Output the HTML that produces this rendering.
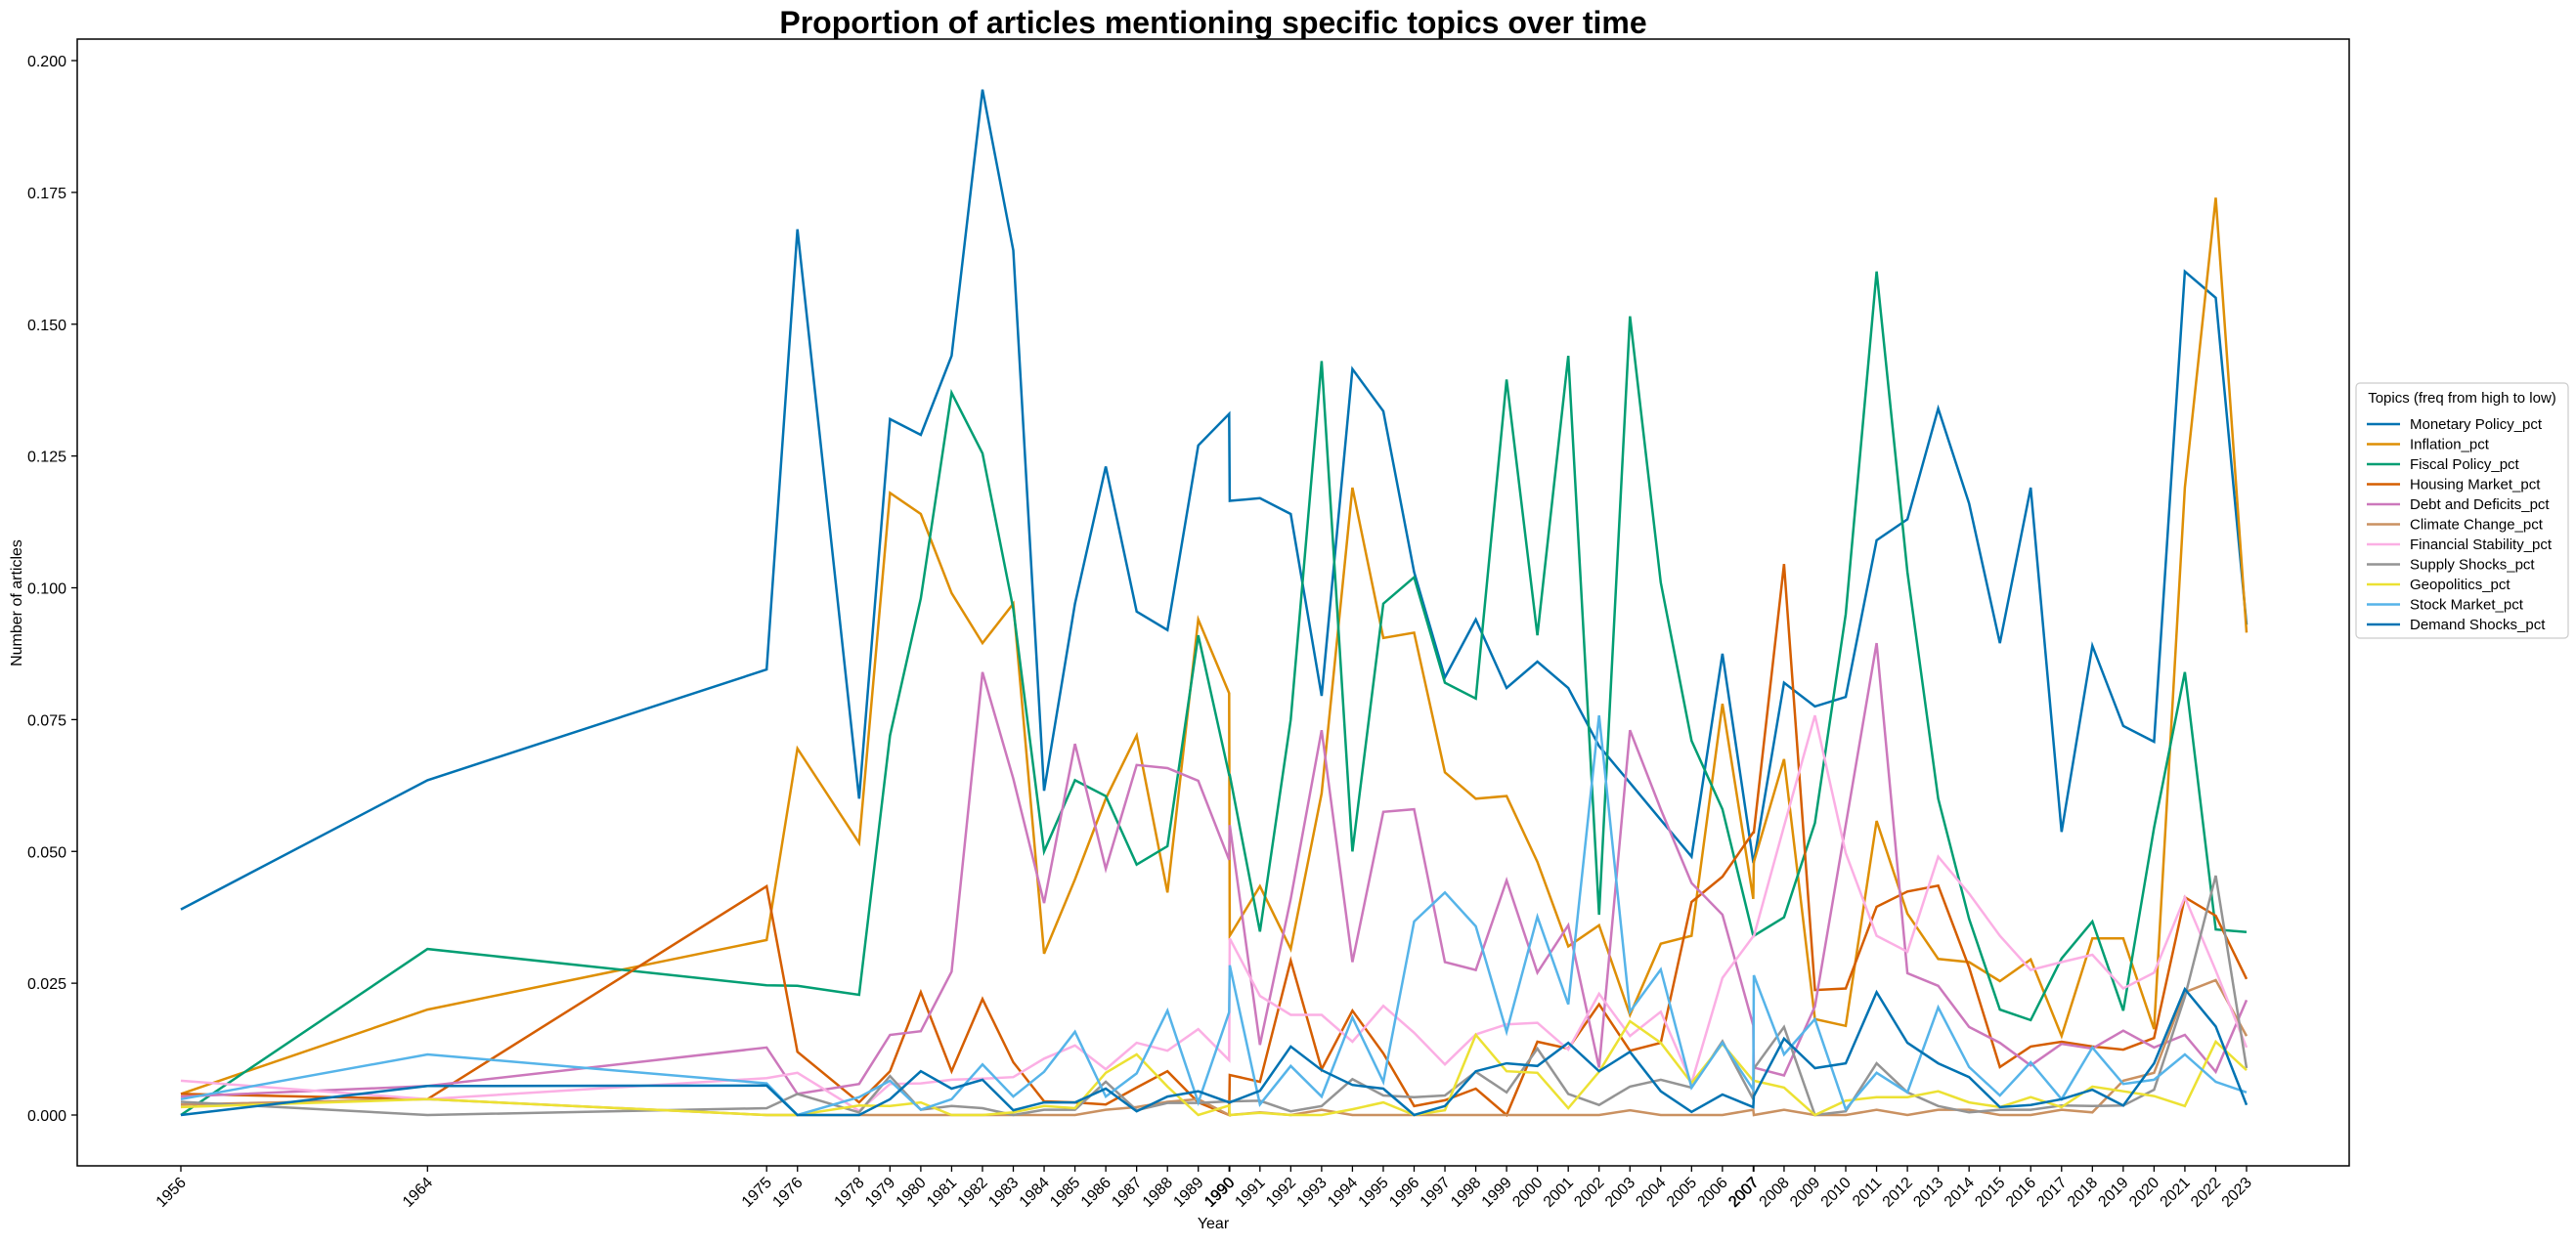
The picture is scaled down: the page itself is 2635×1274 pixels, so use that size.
<!DOCTYPE html>
<html><head><meta charset="utf-8"><style>
html,body{margin:0;padding:0;background:#fff;}
svg text{font-family:"Liberation Sans","DejaVu Sans",sans-serif;fill:#000;}
</style></head><body>
<svg id="chart" width="2635" height="1269" viewBox="0 0 2635 1269" xmlns="http://www.w3.org/2000/svg">
<rect x="0" y="0" width="2635" height="1269" fill="#fff"/>
<text x="1241" y="34" text-anchor="middle" font-size="32" font-weight="bold">Proportion of articles mentioning specific topics over time</text>
<g id="plot"></g>
<text x="1241" y="1257" text-anchor="middle" font-size="16">Year</text>
<text transform="translate(22,617) rotate(-90)" text-anchor="middle" font-size="16">Number of articles</text>
<g id="legend"></g>
</svg>
<script>
const years = [1956,1964,1975,1976,1978,1979,1980,1981,1982,1983,1984,1985,1986,1987,1988,1989,1990,1990.02,1991,1992,1993,1994,1995,1996,1997,1998,1999,2000,2001,2002,2003,2004,2005,2006,2007,2007.02,2008,2009,2010,2011,2012,2013,2014,2015,2016,2017,2018,2019,2020,2021,2022,2023];
const yTicks = [0,0.025,0.05,0.075,0.1,0.125,0.15,0.175,0.2];
const seriesNames = ["Monetary Policy_pct","Inflation_pct","Fiscal Policy_pct","Housing Market_pct","Debt and Deficits_pct","Climate Change_pct","Financial Stability_pct","Supply Shocks_pct","Geopolitics_pct","Stock Market_pct","Demand Shocks_pct"];
const monetary = [.039,.0635,.0845,.168,.060,.132,.129,.144,.1945,.164,.0615,.097,.123,.0955,.092,.127,.133,.1165,.117,.114,.0795,.1415,.1335,.103,.083,.094,.081,.086,.081,.070,.063,.056,.049,.0875,.048,.048,.082,.0775,.0793,.109,.113,.134,.116,.0895,.119,.0537,.089,.0738,.0708,.160,.155,.093];
const inflation = [.004,.020,.0332,.0695,.0516,.118,.114,.099,.0895,.097,.0306,.0447,.060,.072,.0422,.094,.080,.034,.0434,.0315,.061,.119,.0905,.0915,.065,.060,.0605,.048,.032,.036,.019,.0325,.034,.078,.041,.048,.0675,.0182,.0169,.0558,.0382,.0296,.029,.0254,.0295,.015,.0335,.0335,.0163,.119,.174,.0915];
const fiscal = [0,.0315,.0246,.0245,.0228,.072,.098,.137,.1255,.096,.050,.0635,.0605,.0475,.051,.091,.0645,.0645,.0348,.075,.143,.050,.097,.102,.082,.079,.1395,.091,.144,.038,.1515,.101,.071,.058,.034,.034,.0375,.0554,.095,.160,.103,.060,.0372,.020,.018,.0297,.0367,.0198,.0545,.084,.0352,.0347];
const housing = [.004,.003,.0434,.012,.0024,.0083,.0233,.0083,.022,.010,.0026,.0024,.002,.0052,.0083,.0024,0,.0076,.0063,.0293,.0087,.0198,.0117,.0017,.0028,.005,0,.0139,.0126,.021,.0122,.0137,.0404,.0452,.0536,.0536,.1045,.0237,.024,.0395,.0424,.0435,.028,.0091,.013,.0139,.013,.0124,.0146,.0413,.0378,.0258];
const debt = [.0035,.0055,.0128,.004,.0059,.0152,.0159,.0272,.084,.0638,.0402,.0704,.0467,.0664,.0658,.0634,.0484,.055,.0133,.041,.073,.029,.0575,.058,.029,.0275,.0445,.027,.036,.009,.073,.058,.044,.038,.017,.009,.0075,.0206,.055,.0895,.0269,.0245,.0167,.0137,.0094,.0135,.0126,.016,.0128,.0152,.0082,.0218];
const climate = [.002,.003,0,0,0,0,0,0,0,0,0,0,.001,.0015,.0025,.003,0,0,.0005,0,.001,0,0,0,0,0,0,0,0,0,.0009,0,0,0,.001,0,.001,0,0,.001,0,.001,.001,0,0,.001,.0005,.0065,.008,.0233,.0256,.015];
const financial = [.0065,.003,.007,.008,.0008,.0059,.006,.0067,.0069,.0072,.0107,.0132,.0087,.0137,.0122,.0163,.0104,.0335,.0226,.019,.019,.0139,.0207,.0156,.0096,.0153,.0172,.0175,.0124,.023,.015,.0196,.0061,.026,.0339,.0339,.0548,.0758,.0497,.034,.031,.049,.042,.034,.0275,.029,.0304,.024,.027,.0413,.0274,.0128];
const supply = [.0025,0,.0013,.004,.0005,.0074,.001,.0017,.0013,0,.001,.001,.0063,.0009,.0023,.0023,.0026,.0026,.0027,.0007,.0017,.0068,.0037,.0034,.0037,.0082,.0043,.0126,.004,.0019,.0054,.0067,.0052,.014,.003,.0088,.0167,0,.0007,.0098,.0043,.0017,.0005,.001,.001,.0018,.0017,.0018,.0048,.0224,.0454,.0089];
const geo = [.0015,.003,0,0,.0018,.0017,.0024,0,0,.0005,.0017,.0013,.008,.0115,.0054,0,.0018,0,.0004,0,0,.0011,.0024,0,.0009,.0152,.0083,.008,.0013,.0082,.0178,.0137,.0061,.0135,.0065,.0065,.0052,0,.0027,.0034,.0034,.0045,.0024,.0015,.0034,.0015,.0054,.0045,.0036,.0017,.0139,.0085];
const stock = [.003,.0115,.006,0,.0034,.0065,.001,.003,.0096,.0035,.0082,.0158,.0035,.0079,.0198,.0024,.0195,.0284,.002,.0093,.0035,.0185,.0063,.0367,.0422,.0358,.0158,.0376,.021,.0758,.0196,.0276,.0052,.0137,.0048,.0265,.0115,.0182,.0011,.008,.0043,.0204,.0091,.0037,.01,.003,.0128,.0059,.0067,.0115,.0063,.0043];
const demand = [0,.0055,.0056,0,0,.003,.0083,.005,.0067,.0009,.0024,.0024,.005,.0007,.0035,.0045,.0024,.0024,.0046,.013,.0085,.0057,.005,0,.0017,.0083,.0098,.0093,.0137,.0083,.012,.0045,.0006,.0039,.0015,.0036,.0145,.0089,.0098,.0233,.0137,.0098,.0072,.0015,.0019,.003,.0048,.0018,.0098,.0239,.0168,.0019];
const seriesValues = [monetary,inflation,fiscal,housing,debt,climate,financial,supply,geo,stock,demand];
const colors = ["#0173B2","#DE8F05","#029E73","#D55E00","#CC78BC","#CA9161","#FBAFE4","#949494","#ECE133","#56B4E9","#0173B2"];

const NS = "http://www.w3.org/2000/svg";
const L = 79, R = 2403, T = 40, B = 1193;
function xScale(yr){ return 185 + (yr - 1956) * (2298 - 185) / 67; }
function yScale(v){ return 1141 - v * (1141 - 62) / 0.2; }
function mk(tag, attrs, parent){ const e = document.createElementNS(NS, tag); for (const k in attrs) e.setAttribute(k, attrs[k]); parent.appendChild(e); return e; }

const plot = document.getElementById('plot');
// series
seriesValues.forEach((vals, si) => {
  const pts = years.map((yr, i) => xScale(yr).toFixed(1) + ',' + yScale(vals[i]).toFixed(1)).join(' ');
  const pl = mk('polyline', {points: pts, fill: 'none', stroke: colors[si], 'stroke-width': 2.5, 'stroke-linejoin': 'miter'}, plot);
  
  
});
// frame
const frame = mk('rect', {x: L, y: T, width: R - L, height: B - T, fill: 'none', stroke: '#000', 'stroke-width': 1.5}, plot);


// y ticks
yTicks.forEach(v => {
  const y = yScale(v);
  mk('line', {x1: L - 6, x2: L, y1: y, y2: y, stroke: '#000', 'stroke-width': 1.3}, plot);
  const t = mk('text', {x: L - 11, y: y + 6, 'text-anchor': 'end', 'font-size': 16}, plot);
  t.textContent = v.toFixed(3);
  
  
});
// x ticks
years.forEach(yr => {
  const x = xScale(yr);
  mk('line', {x1: x, x2: x, y1: B, y2: B + 6, stroke: '#000', 'stroke-width': 1.3}, plot);
  const t = mk('text', {x: 0, y: 0, 'text-anchor': 'end', 'font-size': 16, transform: 'translate(' + (x + 6) + ',' + (B + 18) + ') rotate(-45)'}, plot);
  t.textContent = String(Math.floor(yr));
  
  
});
// legend
const lg = document.getElementById('legend');
const lx = 2410, ly = 392, lw = 217, lh = 261;
mk('rect', {x: lx, y: ly, width: lw, height: lh, fill: '#fff', stroke: '#ccc', 'stroke-width': 1.2, rx: 4}, lg);
const lt = mk('text', {x: lx + lw / 2, y: ly + 20, 'text-anchor': 'middle', 'font-size': 15}, lg);
lt.textContent = 'Topics (freq from high to low)';


seriesNames.forEach((n, i) => {
  const y = ly + 42 + i * 20.5;
  const g = mk('g', {}, lg);
  
  
  mk('line', {x1: lx + 11, x2: lx + 45, y1: y, y2: y, stroke: colors[i], 'stroke-width': 2.5}, g);
  const t = mk('text', {x: lx + 55, y: y + 5, 'font-size': 15}, g);
  t.textContent = n;
});
</script>
</body></html>
